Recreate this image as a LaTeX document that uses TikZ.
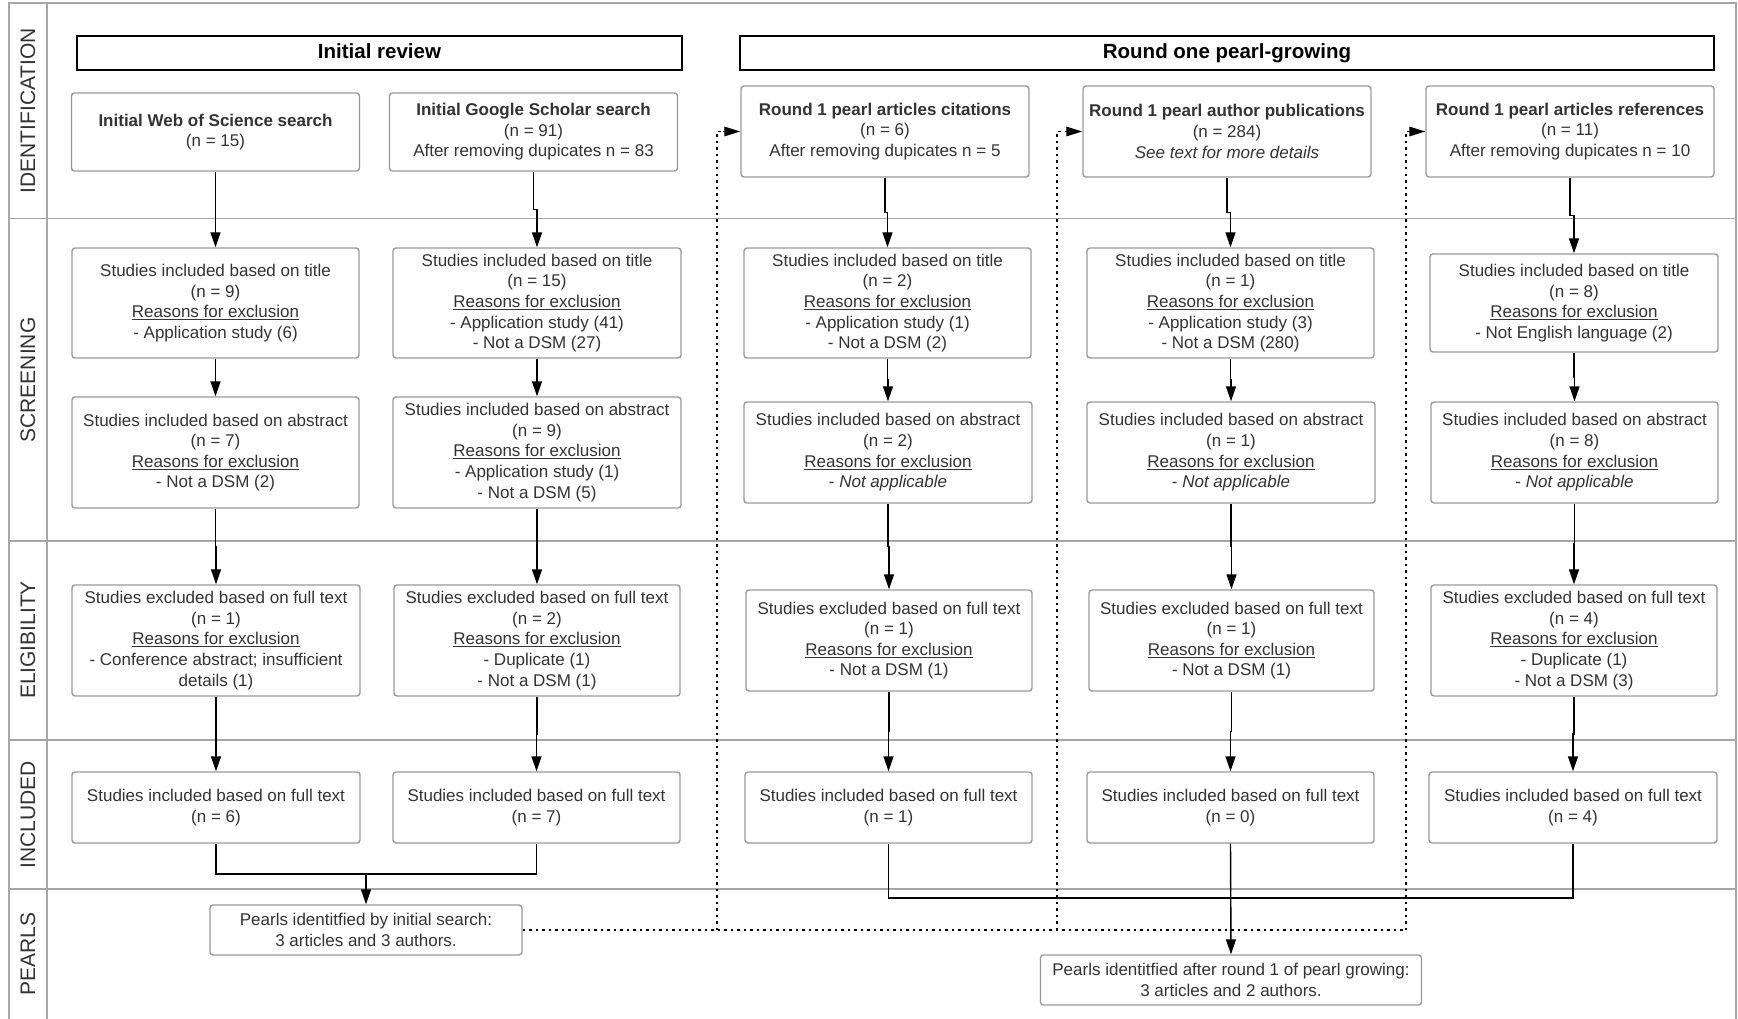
\documentclass[tikz,border=0pt]{standalone}
\usepackage{fontspec}
\setmainfont{Liberation Sans}
\usetikzlibrary{arrows.meta,calc}
\definecolor{txt}{HTML}{333333}
\definecolor{bord}{HTML}{9A9A9A}
\definecolor{lane}{HTML}{A6A6A6}
\newcommand\bx[6]{\node[box, minimum width=#4, minimum height=#5] (#1) at (#2,#3) {#6};}
\newcommand\rsn{\underline{Reasons for exclusion}}
\begin{document}
\begin{tikzpicture}[x=1pt,y=-1pt,
  box/.style={draw=bord, line width=1.4pt, rounded corners=3pt, fill=white, inner sep=0pt,
    align=center, text=txt, font=\fontsize{17}{20.6}\selectfont},
  hdr/.style={draw=black, line width=2pt, inner sep=0pt, align=center, text=black,
    text height=15pt, text depth=4.5pt,
    font=\fontsize{20.5}{24}\selectfont\bfseries},
  lanelbl/.style={rotate=90, text=txt, font=\fontsize{21}{24}\selectfont},
  lanel/.style={draw=lane, line width=1.6pt},
  conn/.style={draw=black, line width=1.4pt},
  arr/.style={conn, -{Triangle[length=15pt,width=10pt]}},
  tiparr/.style={draw=black, line width=1.3pt, solid, -{Triangle[length=16pt,width=9.5pt]}},
  dotl/.style={draw=black, line width=1.3pt, dash pattern=on 2.5pt off 4pt}
]
\useasboundingbox (0,0) rectangle (1738,1019);
% frame and lanes
\draw[lanel] (9,1019) -- (9,3) -- (1736,3) -- (1736,1019);
\draw[lanel] (47,3) -- (47,1019);
\foreach \yy in {218.5,541,740,889}{\draw[lanel] (9,\yy) -- (1736,\yy);}
\node[lanelbl] (lid) at (28,110.7) {IDENTIFICATION};
\node[lanelbl] (lsc) at (28,380) {SCREENING};
\node[lanelbl] (lel) at (28,640) {ELIGIBILITY};
\node[lanelbl] (lin) at (28,814.5) {INCLUDED};
\node[lanelbl] (lpe) at (28,954) {PEARLS};
% headers
\node[hdr, minimum width=605, minimum height=34] (h1) at (379.5,53) {Initial review};
\node[hdr, minimum width=974, minimum height=34] (h2) at (1227,53) {Round one pearl-growing};
% identification
\bx{idA}{215.5}{132}{288}{78}{\textbf{Initial Web of Science search}\\(n = 15)}
\bx{idB}{533.5}{132}{288}{78}{\textbf{Initial Google Scholar search}\\(n = 91)\\After removing dupicates n = 83}
\bx{idC}{885}{131.5}{288}{91}{\textbf{Round 1 pearl articles citations}\\(n = 6)\\After removing dupicates n = 5}
\bx{idD}{1227}{131.5}{288}{91}{\textbf{Round 1 pearl author publications}\\(n = 284)\\\textit{See text for more details}}
\bx{idE}{1570}{131.5}{288}{91}{\textbf{Round 1 pearl articles references}\\(n = 11)\\After removing dupicates n = 10}
% screening title
\bx{tiA}{215.5}{303}{287}{110}{Studies included based on title\\(n = 9)\\\rsn\\- Application study (6)}
\bx{tiB}{537}{303}{288}{110}{Studies included based on title\\(n = 15)\\\rsn\\- Application study (41)\\- Not a DSM (27)}
\bx{tiC}{887.5}{303}{287}{110}{Studies included based on title\\(n = 2)\\\rsn\\- Application study (1)\\- Not a DSM (2)}
\bx{tiD}{1230.5}{303}{287}{110}{Studies included based on title\\(n = 1)\\\rsn\\- Application study (3)\\- Not a DSM (280)}
\bx{tiE}{1574}{303}{288}{98}{Studies included based on title\\(n = 8)\\\rsn\\- Not English language (2)}
% screening abstract
\bx{abA}{215.5}{452.5}{287}{111}{Studies included based on abstract\\(n = 7)\\\rsn\\- Not a DSM (2)}
\bx{abB}{537}{452.5}{288}{111}{Studies included based on abstract\\(n = 9)\\\rsn\\- Application study (1)\\- Not a DSM (5)}
\bx{abC}{888}{452.5}{288}{101}{Studies included based on abstract\\(n = 2)\\\rsn\\- \textit{Not applicable}}
\bx{abD}{1231}{452.5}{288}{101}{Studies included based on abstract\\(n = 1)\\\rsn\\- \textit{Not applicable}}
\bx{abE}{1574.5}{452.5}{287}{101}{Studies included based on abstract\\(n = 8)\\\rsn\\- \textit{Not applicable}}
% eligibility
\bx{elA}{216}{640.5}{288}{111}{Studies excluded based on full text\\(n = 1)\\\rsn\\- Conference abstract; insufficient\\details (1)}
\bx{elB}{537}{640.5}{286}{111}{Studies excluded based on full text\\(n = 2)\\\rsn\\- Duplicate (1)\\- Not a DSM (1)}
\bx{elC}{889}{640.5}{286}{101}{Studies excluded based on full text\\(n = 1)\\\rsn\\- Not a DSM (1)}
\bx{elD}{1231.5}{640.5}{285}{101}{Studies excluded based on full text\\(n = 1)\\\rsn\\- Not a DSM (1)}
\bx{elE}{1574}{640.5}{286}{111}{Studies excluded based on full text\\(n = 4)\\\rsn\\- Duplicate (1)\\- Not a DSM (3)}
% included
\bx{inA}{216}{807.5}{288}{71}{Studies included based on full text\\(n = 6)}
\bx{inB}{536.5}{807.5}{287}{71}{Studies included based on full text\\(n = 7)}
\bx{inC}{888.5}{807.5}{287}{71}{Studies included based on full text\\(n = 1)}
\bx{inD}{1230.5}{807.5}{287}{71}{Studies included based on full text\\(n = 0)}
\bx{inE}{1573}{807.5}{288}{71}{Studies included based on full text\\(n = 4)}
% pearls
\bx{pA}{366}{930}{312}{50}{Pearls identitfied by initial search:\\3 articles and 3 authors.}
\bx{pB}{1231}{980}{381}{50}{Pearls identitfied after round 1 of pearl growing:\\3 articles and 2 authors.}
% vertical arrows
\foreach \c in {A,B,C,D,E}{
  \draw[arr] (id\c.south) |- ($(id\c.south)!.5!(ti\c.north)$) -| (ti\c.north);
  \draw[arr] (ti\c.south) |- ($(ti\c.south)!.5!(ab\c.north)$) -| (ab\c.north);
  \draw[arr] (ab\c.south) |- ($(ab\c.south)!.5!(el\c.north)$) -| (el\c.north);
  \draw[arr] (el\c.south) |- ($(el\c.south)!.5!(in\c.north)$) -| (in\c.north);
}
% merges to pearls
\coordinate (j1) at (366,874);
\coordinate (j2) at (1231,898);
\draw[conn] (inA.south) |- (j1) -| (inB.south);
\draw[arr] (j1) -- (pA.north);
\draw[conn] (inC.south) |- (j2) -| (inE.south);
\draw[arr] (inD.south) -- (pB.north);
% dotted feedback
\coordinate (d1) at (717,930);
\coordinate (d2) at (1057,930);
\coordinate (d3) at (1406,930);
\draw[dotl] (pA.east) -- (d3);
\draw[dotl] (d1) |- ([xshift=-17pt]idC.west);
\draw[dotl] (d2) |- ([xshift=-17pt]idD.west);
\draw[dotl] (d3) |- ([xshift=-17pt]idE.west);
\draw[tiparr] ([xshift=-17pt]idC.west) -- (idC.west);
\draw[tiparr] ([xshift=-17pt]idD.west) -- (idD.west);
\draw[tiparr] ([xshift=-17pt]idE.west) -- (idE.west);
\end{tikzpicture}
\end{document}
